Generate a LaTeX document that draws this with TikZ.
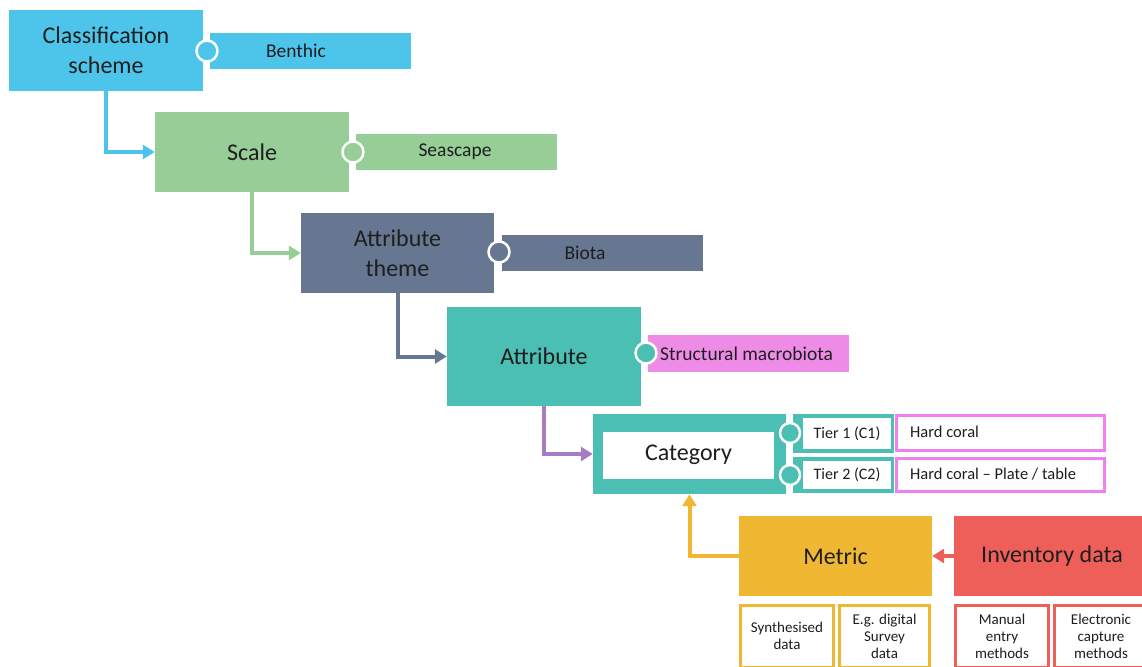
\documentclass[tikz,border=0pt]{standalone}
\usepackage{fontspec}
\setmainfont{Carlito}
\usetikzlibrary{arrows.meta}
\definecolor{cblue}{HTML}{4DC5EB}
\definecolor{cgreen}{HTML}{97CD97}
\definecolor{cslate}{HTML}{677791}
\definecolor{cteal}{HTML}{4BBFB4}
\definecolor{cpink}{HTML}{EE8BE6}
\definecolor{cpinkline}{HTML}{F07FF0}
\definecolor{cpurple}{HTML}{A57EC2}
\definecolor{cgold}{HTML}{F0B832}
\definecolor{cred}{HTML}{EE5F5A}
\definecolor{ink}{HTML}{1E1E1E}
\begin{document}
\begin{tikzpicture}[x=1pt,y=-1pt,
  box/.style={minimum width=194pt, minimum height=80pt, inner sep=0pt, align=center,
    text=ink, font=\fontsize{24}{30}\selectfont},
  bar/.style={minimum width=201pt, minimum height=36pt, inner sep=0pt},
  bartext/.style={text=ink, font=\fontsize{19.5}{22}\selectfont, inner sep=0pt},
  knob/.style={circle, minimum size=21pt, inner sep=0pt, draw=white, line width=2.5pt},
  flow/.style={line width=4pt, -{Triangle[length=12pt,width=14pt]}},
  tierframe/.style={fill=cteal, minimum width=101pt, inner sep=0pt},
  tierin/.style={fill=white, minimum width=88pt, inner sep=0pt, text=ink,
    font=\fontsize{16}{19}\selectfont},
  tierlabel/.style={draw=cpinkline, line width=3pt, fill=white, minimum width=208pt,
    inner sep=0pt},
  tiertext/.style={text=ink, font=\fontsize{16.5}{19}\selectfont, inner sep=0pt, anchor=west},
  subbox/.style={line width=3pt, fill=white, minimum height=62pt, inner sep=0pt,
    align=center, text=ink, font=\fontsize{15}{17}\selectfont},
]
\useasboundingbox (0,0) rectangle (1142,666);

% hierarchy levels
\node[box, fill=cblue, minimum height=81pt] (cls) at (106,50.5) {Classification\\scheme};
\node[box, fill=cgreen] (scale) at (252,152) {Scale};
\node[box, fill=cslate, minimum width=193pt] (theme) at (397.5,253) {Attribute\\theme};
\node[box, fill=cteal, minimum height=99pt] (attr) at (544,356.5) {Attribute};

% example values attached to each level
\node[bar, fill=cblue] (benthic) at (310.5,51) {};
\node[bartext] (benthicT) at (296,51) {Benthic};
\node[knob, fill=cblue] (k1) at (207,51) {};

\node[bar, fill=cgreen] (seascape) at (456.5,152) {};
\node[bartext] (seascapeT) at (455,152) {Seascape};
\node[knob, fill=cgreen] (k2) at (353,152) {};

\node[bar, fill=cslate] (biota) at (602.5,253) {};
\node[bartext] (biotaT) at (585,253) {Biota};
\node[knob, fill=cslate] (k3) at (499,252) {};

\node[bar, fill=cpink, minimum height=37pt] (macro) at (748.5,353.5) {};
\node[bartext, anchor=west] (macroT) at (660,354) {Structural macrobiota};
\node[knob, fill=cteal] (k4) at (646,353) {};

% category with its tiers
\node[box, fill=cteal, minimum width=193pt] (cat) at (689.5,454) {};
\node[fill=white, minimum width=171pt, minimum height=47pt, inner sep=0pt, text=ink,
  font=\fontsize{24}{30}\selectfont] (catin) at (688.5,455) {Category};

\node[tierframe, minimum height=39pt] (t1f) at (843.5,433.5) {};
\node[tierin, minimum height=31pt] (t1) at (847,433.5) {Tier 1 (C1)};
\node[tierframe, minimum height=36pt] (t2f) at (843.5,475) {};
\node[tierin, minimum height=28pt] (t2) at (847,475) {Tier 2 (C2)};
\node[knob, fill=cteal, minimum size=20pt] (k5) at (790,433) {};
\node[knob, fill=cteal, minimum size=20pt] (k6) at (790,475) {};

\node[tierlabel, minimum height=35pt] (h1) at (1000.5,433) {};
\node[tiertext] (h1T) at (910,432) {Hard coral};
\node[tierlabel, minimum height=33pt] (h2) at (1000.5,475) {};
\node[tiertext] (h2T) at (910,474) {Hard coral -- Plate / table};

% metric and inventory data
\node[box, fill=cgold, minimum width=193pt] (metric) at (835.5,556) {Metric};
\node[box, fill=cred, minimum width=196pt] (inv) at (1052,556) {Inventory data};

\node[subbox, draw=cgold, minimum width=93pt] (synth) at (787,636) {Synthesised\\data};
\node[subbox, draw=cgold, minimum width=90pt] (digital) at (884.5,636) {E.g. digital\\Survey\\data};
\node[subbox, draw=cred, minimum width=93pt] (manual) at (1002,636) {Manual\\entry\\methods};
\node[subbox, draw=cred, minimum width=94pt] (elec) at (1101,636) {Electronic\\capture\\methods};

% flow between levels
\draw[flow, cblue] (cls.south) |- (scale.west);
\draw[flow, cgreen] (scale.south) |- (theme.west);
\draw[flow, cslate] (theme.south) |- (attr.west);
\draw[flow, cpurple] (attr.south) |- (cat.west);
\draw[flow, cgold] (metric.west) -| (cat.south);
\draw[flow, cred] (inv.west) -- (metric.east);
\end{tikzpicture}
\end{document}
